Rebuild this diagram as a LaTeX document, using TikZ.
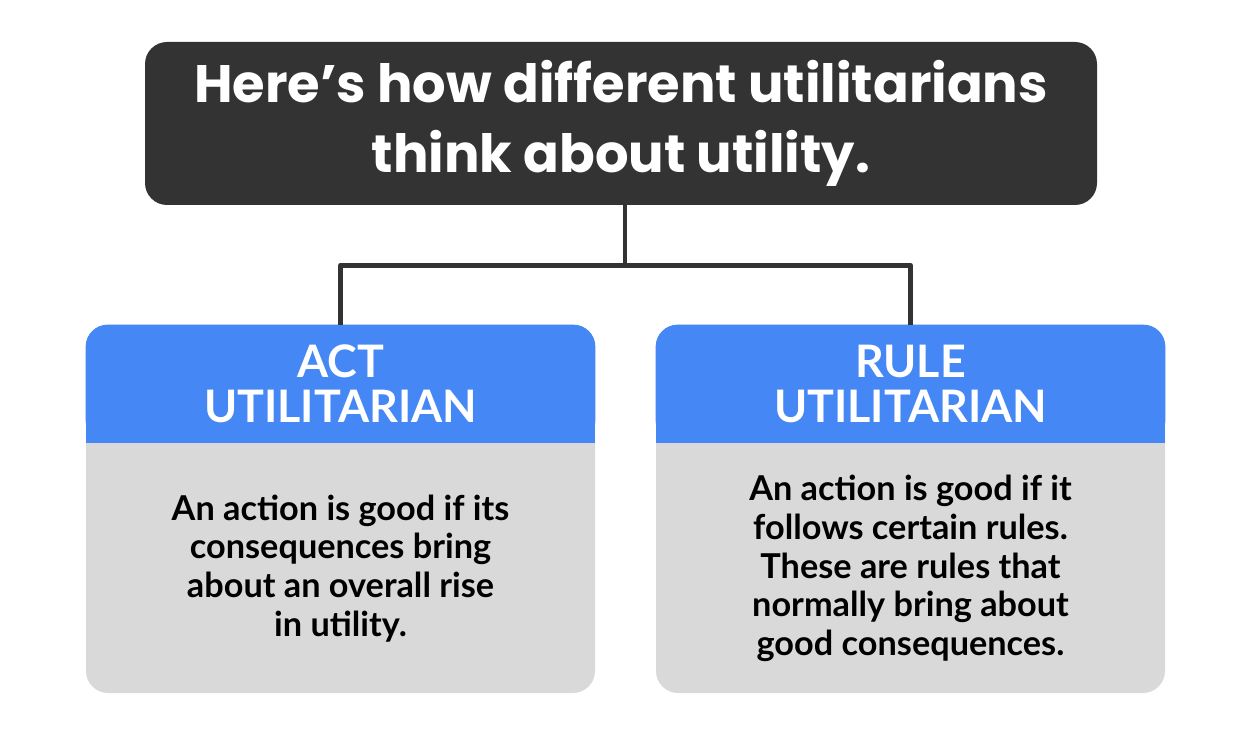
\documentclass[tikz,border=0pt]{standalone}
\usepackage{fontspec}
\setmainfont{Lato}
\newfontfamily\titlefont{Poppins}
\usetikzlibrary{positioning}
\definecolor{darkbox}{HTML}{333333}
\definecolor{headblue}{HTML}{4487F5}
\definecolor{bodygray}{HTML}{D9D9D9}
\begin{document}
\begin{tikzpicture}[line cap=round,line join=round,
	card/.style={fill=bodygray,rounded corners=0.44cm,minimum width=10.18cm,minimum height=7.36cm,inner sep=0pt},
	headtext/.style={text=white,align=center,font=\fontsize{25.5}{25.5}\selectfont\bfseries},
	bodytext/.style={text=black,align=center,font=\fontsize{19.5}{22}\selectfont\bfseries},
	link/.style={draw=darkbox,line width=2.8pt,line cap=butt}]
	\useasboundingbox (0,0) rectangle (25,-14.7);
	\node[fill=darkbox,rounded corners=0.44cm,minimum width=19.04cm,minimum height=3.26cm,
		text=white,align=center,font=\titlefont\fontsize{30}{39.7}\selectfont\bfseries] (title) at (12.42,-2.47)
		{Here’s how different utilitarians\\think about utility.};
	\node[card] (act) at (6.81,-10.18) {};
	\node[card] (rule) at (18.21,-10.18) {};
	% blue heads, round on top only
	\foreach \c in {act,rule}{
		\fill[headblue,rounded corners=0.44cm] (\c.north west) rectangle ([yshift=-2.36cm]\c.north east);
		\fill[headblue] ([yshift=-1cm]\c.north west) rectangle ([yshift=-2.36cm]\c.north east);}
	\node[headtext] (actHead) at ([yshift=-1.18cm]act.north) {ACT\\UTILITARIAN};
	\node[headtext] (ruleHead) at ([yshift=-1.18cm]rule.north) {RULE\\UTILITARIAN};
	\node[bodytext] (actText) at ([yshift=2.5cm]act.south)
		{An action is good if its\\consequences bring\\about an overall rise\\in utility.};
	\node[bodytext] (ruleText) at ([yshift=2.5cm]rule.south)
		{An action is good if it\\follows certain rules.\\These are rules that\\normally bring about\\good consequences.};
	\coordinate (top) at ([xshift=0.08cm]title.south);
	\coordinate (fork) at ([yshift=-1.2cm]top);
	\draw[link] (top) -- (fork) -| (act.north);
	\draw[link] (fork) -| (rule.north);
\end{tikzpicture}
\end{document}
